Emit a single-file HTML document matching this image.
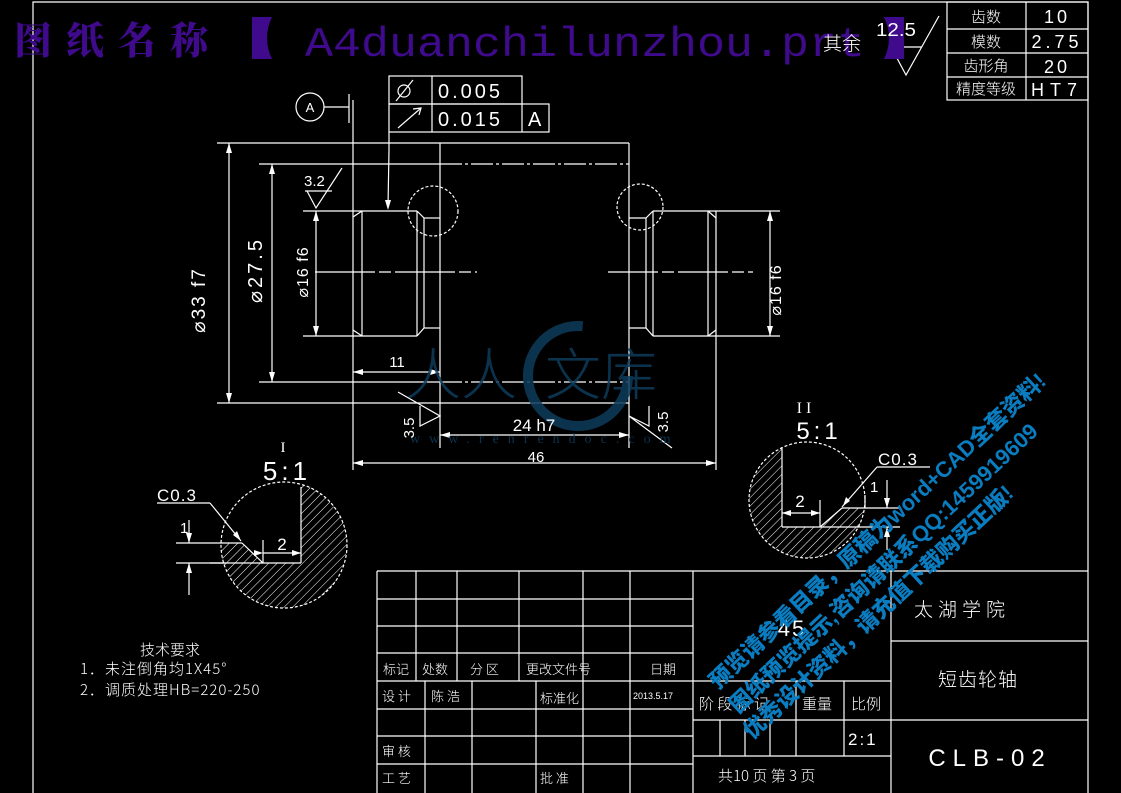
<!DOCTYPE html>
<html><head><meta charset="utf-8"><style>
html,body{margin:0;padding:0;background:#000;width:1121px;height:793px;overflow:hidden}
svg{display:block}
text{font-family:"Liberation Sans","Noto Sans CJK SC",sans-serif;fill:#fff}
.c{font-family:"Noto Sans CJK SC","WenQuanYi Zen Hei",sans-serif;font-weight:300}
</style></head><body>
<svg width="1121" height="793" viewBox="0 0 1121 793" xmlns="http://www.w3.org/2000/svg">
<defs>
<pattern id="h" width="6" height="6" patternUnits="userSpaceOnUse" patternTransform="rotate(45)"><line x1="0" y1="0" x2="0" y2="6" stroke="#fff" stroke-width="1"/></pattern>
<clipPath id="c1"><circle cx="284" cy="545" r="63"/></clipPath>
<clipPath id="c2"><circle cx="807" cy="500" r="58"/></clipPath>
</defs>
<g stroke="#fff" stroke-width="1.2" fill="none">
<polyline points="33,793 33,2 1088,2 1088,793"/>
<rect x="947" y="2" width="141" height="98"/>
<line x1="947" y1="29" x2="1088" y2="29"/><line x1="947" y1="53" x2="1088" y2="53"/><line x1="947" y1="77" x2="1088" y2="77"/>
<line x1="1026" y1="2" x2="1026" y2="100"/>
<polyline points="889,47 922,47"/><polyline points="891,47 906,75 939,16"/>

<line x1="217" y1="143" x2="629" y2="143"/>
<line x1="217" y1="403" x2="629" y2="403"/>
<line x1="353" y1="100" x2="353" y2="470"/>
<line x1="440" y1="143" x2="440" y2="448"/>
<line x1="629" y1="143" x2="629" y2="448"/>
<line x1="716" y1="211" x2="716" y2="470"/>
<line x1="259" y1="164" x2="440" y2="164"/>
<line x1="259" y1="382" x2="440" y2="382"/>
<line x1="440" y1="164" x2="629" y2="164" stroke-dasharray="22 3 3 3"/>
<line x1="440" y1="382" x2="629" y2="382" stroke-dasharray="22 3 3 3"/>
<line x1="303" y1="211" x2="417" y2="211"/><line x1="303" y1="336" x2="417" y2="336"/>
<line x1="362" y1="211" x2="362" y2="336"/>
<line x1="353" y1="217" x2="362" y2="211"/><line x1="353" y1="330" x2="362" y2="336"/>
<line x1="417" y1="211" x2="424" y2="218"/><line x1="417" y1="336" x2="424" y2="328"/>
<line x1="417" y1="211" x2="417" y2="336"/>
<line x1="424" y1="218" x2="424" y2="328"/>
<line x1="424" y1="218" x2="440" y2="218"/><line x1="424" y1="328" x2="440" y2="328"/>
<line x1="629" y1="218" x2="646" y2="218"/><line x1="629" y1="328" x2="646" y2="328"/>
<line x1="646" y1="218" x2="646" y2="328"/>
<line x1="646" y1="218" x2="653" y2="211"/><line x1="646" y1="328" x2="653" y2="336"/>
<line x1="653" y1="211" x2="653" y2="336"/>
<line x1="653" y1="211" x2="780" y2="211"/><line x1="653" y1="336" x2="780" y2="336"/>
<line x1="708" y1="211" x2="708" y2="336"/>
<line x1="708" y1="211" x2="716" y2="218"/><line x1="708" y1="336" x2="716" y2="330"/>
<line x1="315" y1="272" x2="477" y2="272" stroke-dasharray="60 4 12 4"/>
<line x1="608" y1="272" x2="753" y2="272" stroke-dasharray="50 4 12 4"/>
<circle cx="433" cy="211" r="25" stroke-dasharray="3 2"/>
<circle cx="640" cy="207" r="23" stroke-dasharray="3 2"/>
<line x1="229" y1="143" x2="229" y2="403"/>
<line x1="272" y1="164" x2="272" y2="382"/>
<line x1="316" y1="211" x2="316" y2="336"/>
<line x1="770" y1="211" x2="770" y2="336"/>
<line x1="353" y1="372" x2="440" y2="372"/>
<line x1="440" y1="435" x2="629" y2="435"/>
<line x1="353" y1="463" x2="716" y2="463"/>
<polyline points="305,191 332,191"/><polyline points="307,191 316,208 342,168"/>
<polyline points="420,406 420,426 440,416 398,392"/>
<polyline points="649,406 649,426 629,416 672,448"/>
<rect x="389" y="76" width="133" height="28"/>
<rect x="389" y="104" width="160" height="28"/>
<line x1="432" y1="76" x2="432" y2="132"/><line x1="522" y1="104" x2="522" y2="132"/>
<line x1="389" y1="132" x2="389" y2="150"/><line x1="389" y1="150" x2="388" y2="207"/>
<line x1="396" y1="101" x2="413" y2="80"/><circle cx="404" cy="91" r="6"/>
<line x1="398" y1="128" x2="421" y2="108"/><polyline points="413,109 421,108 419,115"/>
<circle cx="310" cy="107" r="14"/>
<line x1="324" y1="107" x2="349" y2="107"/><line x1="349" y1="94" x2="349" y2="123"/>

<g clip-path="url(#c1)"><path d="M301,470 L360,470 L360,620 L210,620 L210,543 L242,543 L263,563 L301,563 Z" fill="url(#h)" stroke="none"/></g>
<circle cx="284" cy="545" r="63" stroke-dasharray="3 2"/>
<line x1="301" y1="487" x2="301" y2="563"/><line x1="210" y1="563" x2="301" y2="563"/>
<line x1="176" y1="543" x2="242" y2="543"/><line x1="176" y1="563" x2="225" y2="563"/>
<line x1="242" y1="543" x2="263" y2="563"/>
<line x1="263" y1="540" x2="263" y2="563"/><line x1="263" y1="553" x2="301" y2="553"/>
<line x1="157" y1="503" x2="210" y2="503"/><line x1="210" y1="503" x2="241" y2="541"/>
<line x1="189" y1="520" x2="189" y2="543"/><line x1="189" y1="563" x2="189" y2="595"/>

<g clip-path="url(#c2)"><path d="M700,430 L782,430 L782,527 L820,527 L842,508 L900,508 L900,580 L700,580 Z" fill="url(#h)" stroke="none"/></g>
<circle cx="807" cy="500" r="58" stroke-dasharray="3 2"/>
<line x1="782" y1="448" x2="782" y2="527"/><line x1="782" y1="527" x2="900" y2="527"/>
<line x1="820" y1="527" x2="842" y2="508"/><line x1="842" y1="508" x2="900" y2="508"/>
<line x1="865" y1="495" x2="865" y2="508"/>
<line x1="820" y1="500" x2="820" y2="527"/><line x1="782" y1="513" x2="820" y2="513"/>
<line x1="877" y1="467" x2="930" y2="467"/><line x1="877" y1="467" x2="842" y2="507"/>
<line x1="887" y1="480" x2="887" y2="508"/><line x1="887" y1="527" x2="887" y2="550"/>

<line x1="377" y1="571" x2="1088" y2="571"/>
<line x1="377" y1="571" x2="377" y2="793"/>
<line x1="693" y1="571" x2="693" y2="793"/>
<line x1="891" y1="571" x2="891" y2="793"/>
<line x1="377" y1="599" x2="693" y2="599"/><line x1="377" y1="626" x2="693" y2="626"/>
<line x1="377" y1="653" x2="693" y2="653"/><line x1="377" y1="681" x2="693" y2="681"/>
<line x1="377" y1="709" x2="693" y2="709"/><line x1="377" y1="736" x2="693" y2="736"/>
<line x1="377" y1="764" x2="693" y2="764"/>
<line x1="416" y1="571" x2="416" y2="681"/><line x1="457" y1="571" x2="457" y2="681"/>
<line x1="519" y1="571" x2="519" y2="681"/><line x1="583" y1="571" x2="583" y2="793"/>
<line x1="630" y1="571" x2="630" y2="793"/>
<line x1="425" y1="681" x2="425" y2="793"/><line x1="472" y1="681" x2="472" y2="793"/>
<line x1="536" y1="681" x2="536" y2="793"/>
<line x1="693" y1="681" x2="891" y2="681"/><line x1="693" y1="720" x2="891" y2="720"/>
<line x1="693" y1="756" x2="891" y2="756"/>
<line x1="796" y1="681" x2="796" y2="756"/><line x1="844" y1="681" x2="844" y2="756"/>
<line x1="720" y1="720" x2="720" y2="756"/><line x1="745" y1="720" x2="745" y2="756"/><line x1="770" y1="720" x2="770" y2="756"/>
<line x1="891" y1="641" x2="1088" y2="641"/><line x1="891" y1="720" x2="1088" y2="720"/>
</g>
<g fill="#fff">
<polygon points="229,143 226,153 232,153"/><polygon points="229,403 226,393 232,393"/>
<polygon points="272,164 269,174 275,174"/><polygon points="272,382 269,372 275,372"/>
<polygon points="316,211 313,221 319,221"/><polygon points="316,336 313,326 319,326"/>
<polygon points="770,211 767,221 773,221"/><polygon points="770,336 767,326 773,326"/>
<polygon points="353,372 363,369 363,375"/><polygon points="440,372 430,369 430,375"/>
<polygon points="440,435 450,432 450,438"/><polygon points="629,435 619,432 619,438"/>
<polygon points="353,463 363,460 363,466"/><polygon points="716,463 706,460 706,466"/>
<polygon points="388,210 385,200 391,200"/>
<polygon points="263,553 254,550 254,556"/><polygon points="301,553 292,550 292,556"/>
<polygon points="189,543 186,533 192,533"/><polygon points="189,563 186,573 192,573"/>
<polygon points="782,513 791,510 791,516"/><polygon points="820,513 811,510 811,516"/>
<polygon points="887,508 884,498 890,498"/><polygon points="887,527 884,537 890,537"/>
<polygon points="241,541 233,535 237,531"/><polygon points="843,506 846,497 850,501"/>
</g>

<g opacity="0.85">
<circle cx="578" cy="376" r="50" fill="none" stroke="#0d3c5c" stroke-width="10" stroke-dasharray="240 80"/>
<text x="405" y="395" font-size="56" style="fill:#0d3c5c" class="c" font-weight="700">人人</text>
<text x="545" y="395" font-size="56" style="fill:#0d3c5c" class="c" font-weight="700">文库</text>
<text x="410" y="443" font-size="14" style="fill:#0d3c5c;font-family:'Liberation Serif',serif" letter-spacing="9">www.renrendoc.com</text>
</g>

<text x="14" y="54" font-size="38" style="fill:#3f0a8c;font-family:'Noto Serif CJK SC',serif" font-weight="900" letter-spacing="14">图纸名称</text>
<path d="M252,17 L272,17 Q262,38 272,59 L252,59 Z" fill="#3f0a8c"/>
<text x="305" y="56" font-size="42" style="fill:#3f0a8c;font-family:'Liberation Mono',monospace" textLength="560" lengthAdjust="spacingAndGlyphs">A4duanchilunzhou.prt</text>
<path d="M884,17 L904,17 L904,59 L884,59 Q894,38 884,17 Z" fill="#3f0a8c"/>
<text x="823" y="50" font-size="19" class="c">其余</text>
<text x="876" y="36" font-size="18" textLength="40" lengthAdjust="spacingAndGlyphs">12.5</text>
<text x="986" y="22" font-size="15" class="c" text-anchor="middle">齿数</text>
<text x="986" y="47" font-size="15" class="c" text-anchor="middle">模数</text>
<text x="986" y="71" font-size="15" class="c" text-anchor="middle">齿形角</text>
<text x="986" y="94" font-size="15" class="c" text-anchor="middle">精度等级</text>
<text x="1057" y="23" font-size="18" text-anchor="middle" letter-spacing="3">10</text>
<text x="1057" y="48" font-size="18" text-anchor="middle" letter-spacing="4">2.75</text>
<text x="1057" y="73" font-size="18" text-anchor="middle" letter-spacing="3">20</text>
<text x="1057" y="96" font-size="18" text-anchor="middle" letter-spacing="6">HT7</text>

<text x="438" y="98" font-size="20" letter-spacing="3">0.005</text>
<text x="438" y="126" font-size="20" letter-spacing="3">0.015</text>
<text x="528" y="126" font-size="20">A</text>
<text x="310" y="112" font-size="13" text-anchor="middle">A</text>
<text x="304" y="186" font-size="15">3.2</text>
<text transform="translate(205,300) rotate(-90)" font-size="19" text-anchor="middle" letter-spacing="2">⌀33 f7</text>
<text transform="translate(262,270) rotate(-90)" font-size="20" text-anchor="middle" letter-spacing="3">⌀27.5</text>
<text transform="translate(308,272) rotate(-90)" font-size="16" text-anchor="middle" letter-spacing="1">⌀16 f6</text>
<text transform="translate(781,290) rotate(-90)" font-size="16" text-anchor="middle" letter-spacing="1">⌀16 f6</text>
<text x="397" y="367" font-size="15" text-anchor="middle">11</text>
<text x="534" y="431" font-size="17" text-anchor="middle">24 h7</text>
<text x="536" y="462" font-size="15" text-anchor="middle">46</text>
<text transform="translate(414,428) rotate(-90)" font-size="15" text-anchor="middle">3.5</text>
<text transform="translate(668,422) rotate(-90)" font-size="15" text-anchor="middle">3.5</text>

<text x="283" y="452" font-size="15" text-anchor="middle" style="font-family:'Liberation Serif',serif">I</text>
<text x="287" y="480" font-size="26" text-anchor="middle" letter-spacing="4">5:1</text>
<text x="157" y="501" font-size="17" letter-spacing="1">C0.3</text>
<text x="180" y="533" font-size="15">1</text>
<text x="282" y="550" font-size="17" text-anchor="middle">2</text>
<text x="806" y="413" font-size="16" text-anchor="middle" letter-spacing="4" style="font-family:'Liberation Serif',serif">II</text>
<text x="819" y="439" font-size="24" text-anchor="middle" letter-spacing="4">5:1</text>
<text x="878" y="465" font-size="17" letter-spacing="1">C0.3</text>
<text x="870" y="492" font-size="15">1</text>
<text x="800" y="507" font-size="17" text-anchor="middle">2</text>

<text x="140" y="655" font-size="15" class="c">技术要求</text>
<text x="80" y="674" font-size="15" class="c" letter-spacing="1">1．未注倒角均1X45°</text>
<text x="80" y="695" font-size="15" class="c" letter-spacing="1">2．调质处理HB=220-250</text>

<g font-size="13">
<text x="383" y="674" class="c">标记</text><text x="422" y="674" class="c">处数</text>
<text x="470" y="674" class="c">分 区</text><text x="526" y="674" class="c">更改文件号</text>
<text x="650" y="674" class="c">日期</text>
<text x="382" y="701" class="c">设 计</text><text x="431" y="701" class="c">陈 浩</text>
<text x="540" y="703" class="c">标准化</text>
<text x="633" y="699" font-size="9">2013.5.17</text>
<text x="382" y="756" class="c">审 核</text>
<text x="382" y="783" class="c">工 艺</text><text x="540" y="783" class="c">批 准</text>
<text x="699" y="709" font-size="15" class="c">阶 段 标 记</text>
<text x="802" y="709" font-size="15" class="c">重量</text><text x="851" y="709" font-size="15" class="c">比例</text>
<text x="848" y="745" font-size="17" letter-spacing="2">2:1</text>
<text x="718" y="781" font-size="15" class="c">共10 页  第 3 页</text>
</g>
<text x="792" y="636" font-size="22" text-anchor="middle" letter-spacing="2">45</text>
<text x="962" y="616" font-size="19" class="c" text-anchor="middle" letter-spacing="5">太湖学院</text>
<text x="978" y="686" font-size="19" class="c" text-anchor="middle" letter-spacing="1">短齿轮轴</text>
<text x="990" y="766" font-size="24" text-anchor="middle" letter-spacing="7">CLB-02</text>

<g style="fill:#0a7cc0;font-family:'Noto Serif CJK SC',serif" font-weight="900" font-size="22">
<text transform="translate(718,690) rotate(-43)" style="fill:#0a7cc0">预览请参看目录，原稿为word+CAD全套资料!</text>
<text transform="translate(738,714) rotate(-43)" style="fill:#0a7cc0">图纸预览提示,咨询请联系QQ:1459919609</text>
<text transform="translate(752,740) rotate(-43)" style="fill:#0a7cc0">优秀设计资料，请充值下载购买正版!</text>
</g>
</svg>
</body></html>
